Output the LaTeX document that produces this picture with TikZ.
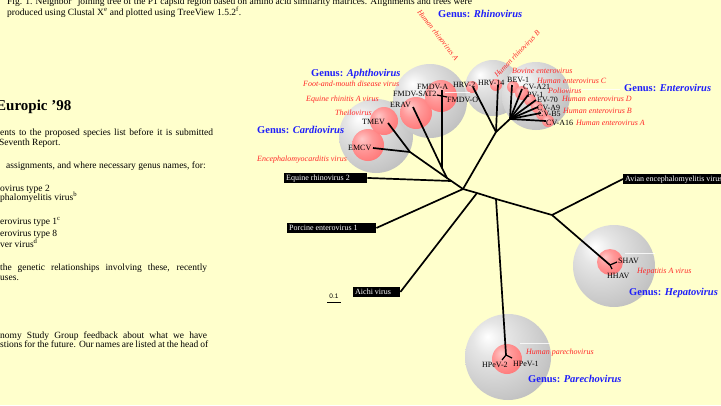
\documentclass[tikz,border=0pt]{standalone}
\usepackage{fontspec}
\setmainfont{Liberation Serif}
\setsansfont{Liberation Sans}

\definecolor{paper}{RGB}{255,255,204}
\definecolor{genusblue}{RGB}{30,30,250}
\definecolor{spred}{RGB}{255,40,40}

% shaded balls marking the genera (grey) and species (red)
\pgfdeclareradialshading{greyball}{\pgfpoint{-12bp}{12bp}}{%
  color(0bp)=(white); color(10bp)=(white!90!black); color(30bp)=(white!78!black);
  color(50bp)=(white!64!black); color(72bp)=(white!56!black)}
\pgfdeclareradialshading{redball}{\pgfpoint{-10bp}{10bp}}{%
  color(0bp)=(red!22); color(15bp)=(red!40); color(40bp)=(red!58); color(72bp)=(red!68)}

\begin{document}
\begin{tikzpicture}[x=1pt,y=-1pt,
  body/.style={font=\fontsize{9.5}{11}\selectfont, anchor=base west, inner sep=0pt},
  genus/.style={text=genusblue, font=\fontsize{10.5}{12}\selectfont\bfseries, anchor=base west, inner sep=0pt},
  species/.style={text=spred, font=\fontsize{8}{9}\selectfont\itshape, anchor=base west, inner sep=0pt},
  abbr/.style={font=\fontsize{8}{9}\selectfont, anchor=base west, inner sep=0pt},
  darkbox/.style={fill=black, text=white, font=\fontsize{8}{9}\selectfont, anchor=north west,
    inner xsep=2pt, inner ysep=1pt, text height=6.5pt, text depth=1pt},
  greysphere/.style={shading=greyball},
  redsphere/.style={shading=redball},
  branch/.style={line width=1.7pt, line join=round},
  twig/.style={line width=1.2pt},
  leader/.style={white, line width=0.6pt, opacity=0.8}]

\useasboundingbox (0,0) rectangle (721,405);
\fill[paper] (0,0) rectangle (721,405);

% ---- caption and body text ----
\node[body] (cap1) at (7,4) {Fig. 1. Neighbor\textsuperscript{d} joining tree of the P1 capsid region based on amino acid similarity matrices. Alignments and trees were};
\node[body] (cap2) at (7,15) {produced using Clustal X\textsuperscript{e} and plotted using TreeView 1.5.2\textsuperscript{f}.};

\node[anchor=base west, inner sep=0pt, font=\fontsize{15}{17}\selectfont\bfseries] (title) at (-4,110) {Europic '98};

\node[body] (t1) at (0,135) {\makebox[213pt][s]{ents to the proposed species list before it is submitted}};
\node[body] (t2) at (-1,145) {Seventh Report.};
\node[body] (t3) at (6,168) {assignments, and where necessary genus names, for:};
\node[body] (t4) at (0,191) {ovirus type 2};
\node[body] (t5) at (0,200) {phalomyelitis virus\textsuperscript{b}};
\node[body] (t6) at (0,224) {erovirus type 1\textsuperscript{c}};
\node[body] (t7) at (0,236) {erovirus type 8};
\node[body] (t8) at (0,247) {ver virus\textsuperscript{d}};
\node[body] (t9) at (0,270) {\makebox[207pt][s]{the genetic relationships involving these, recently}};
\node[body] (t10) at (0,280) {uses.};
\node[body] (t11) at (0,338) {\makebox[207pt][s]{nomy Study Group feedback about what we have}};
\node[body] (t12) at (0,347) {\makebox[208pt][s]{stions for the future. Our names are listed at the head of}};

% ---- genus spheres ----
\shade[greysphere] (376,136) circle[radius=37];
\shade[greysphere] (430,101) circle[radius=37];
\shade[greysphere] (493,88) circle[radius=28];
\shade[greysphere] (536,96) circle[radius=34];
\shade[greysphere] (614,266) circle[radius=41];
\shade[greysphere] (508,357) circle[radius=43];

% ---- species spheres ----
\shade[redsphere] (368,145) circle[radius=16];
\shade[redsphere] (384,121) circle[radius=14];
\shade[redsphere] (416,113) circle[radius=16];
\shade[redsphere] (441,96) circle[radius=16];
\shade[redsphere] (472,87) circle[radius=6];
\shade[redsphere] (496,85) circle[radius=6];
\shade[redsphere] (513,87) circle[radius=6];
\shade[redsphere] (522,93) circle[radius=7];
\shade[redsphere] (530,100) circle[radius=6];
\shade[redsphere] (537,107) circle[radius=6];
\shade[redsphere] (542,114) circle[radius=6];
\shade[redsphere] (548,121) circle[radius=6];
\shade[redsphere] (610,262) circle[radius=13];
\shade[redsphere] (507,359) circle[radius=15];

% faint leader lines from labels to spheres
\draw[leader] (445,92) -- (470,92);
\draw[leader] (562,89) -- (620,89);
\draw[leader] (625,253) -- (655,253);
\draw[leader] (520,343) -- (550,343);

% ---- outgroup labels in black boxes ----
\node[darkbox] (eqr) at (284,173) {\makebox[79pt][l]{Equine rhinovirus 2}};
\node[darkbox] (pev) at (287,223) {\makebox[85pt][l]{Porcine enterovirus 1}};
\node[darkbox] (aichi) at (353,287) {\makebox[43pt][l]{Aichi virus}};
\node[darkbox] (avian) at (623,174) {\makebox[120pt][l]{Avian encephalomyelitis virus}};

% ---- tree: inner nodes ----
\coordinate (c0) at (463,189);
\coordinate (n1) at (451,181);
\coordinate (nAC) at (447,178);
\coordinate (a0) at (442,168);
\coordinate (f0) at (442,96);
\coordinate (cd0) at (410,152);
\coordinate (rh0) at (496,132);
\coordinate (e0) at (510,119);
\coordinate (nA) at (477,193);
\coordinate (p1) at (496,199);
\coordinate (h1) at (552,215);
\coordinate (hv) at (610,265);
\coordinate (pe) at (506,355);

% ---- tree: tips ----
\coordinate (tFA) at (442,90);
\coordinate (tFS) at (437,95);
\coordinate (tFO) at (447,97);
\coordinate (tER) at (413,107);
\coordinate (tTM) at (388,123);
\coordinate (tEM) at (373,148);
\coordinate (tH2) at (473,87);
\coordinate (tH14) at (498,85);
\coordinate (tBE) at (512,85);
\coordinate (tA21) at (522,89);
\coordinate (tPV) at (528,95);
\coordinate (tE70) at (536,100);
\coordinate (tA9) at (538,107);
\coordinate (tB5) at (541,113);
\coordinate (tA16) at (546,121);
\coordinate (tSH) at (617,262);
\coordinate (tHH) at (612,269);
\coordinate (tP2) at (502,360);
\coordinate (tP1) at (512,358);

% ---- tree: branches ----
\draw[branch] (eqr.east) -- (n1);
\draw[branch] (pev.east) -- (c0);
\draw[branch] (aichi.east) -- (nA);
\draw[branch] (avian.west) -- (h1);
\draw[branch] (c0) -- (nAC) -- (a0) -- (f0);
\draw[branch] (a0) -- (tER);
\draw[branch] (nAC) -- (cd0) -- (tTM);
\draw[branch] (cd0) -- (tEM);
\draw[branch] (c0) -- (rh0) -- (tH2);
\draw[branch] (rh0) -- (tH14);
\draw[branch] (rh0) -- (e0);
\foreach \t in {tBE,tA21,tPV,tE70,tA9,tB5,tA16} \draw[branch] (e0) -- (\t);
\draw[branch] (c0) -- (nA) -- (p1) -- (h1) -- (hv);
\draw[branch] (p1) -- (pe);
\draw[twig] (f0) -- (tFA);
\draw[twig] (f0) -- (tFS);
\draw[twig] (f0) -- (tFO);
\draw[twig] (hv) -- (tSH);
\draw[twig] (hv) -- (tHH);
\draw[twig] (pe) -- (tP2);
\draw[twig] (pe) -- (tP1);

% scale bar
\node[anchor=base, inner sep=0pt, font=\sffamily\fontsize{6.5}{7}\selectfont] (scl) at (334,298) {0.1};
\coordinate (sb0) at (327,302);
\coordinate (sb1) at (341,302);
\draw[line width=1pt] (sb0) -- (sb1);

% ---- strain abbreviations ----
\node[abbr] (FMDVA) at (417,89) {FMDV-A};
\node[abbr] (FMDVSAT) at (393,96) {FMDV-SAT2};
\node[abbr] (FMDVO) at (447,102) {FMDV-O};
\node[abbr] (ERAV) at (390,107) {ERAV};
\node[abbr] (TMEV) at (362,124) {TMEV};
\node[abbr] (EMCV) at (348,150) {EMCV};
\node[abbr] (HRV2) at (453,87) {HRV-2};
\node[abbr] (HRV14) at (478,85) {HRV-14};
\node[abbr] (BEV1) at (507,82) {BEV-1};
\node[abbr] (CVA21) at (523,89) {CV-A21};
\node[abbr] (PV1) at (527,97) {PV-1};
\node[abbr] (EV70) at (537,102) {EV-70};
\node[abbr] (CVA9) at (537,110) {CV-A9};
\node[abbr] (CVB5) at (538,116) {CV-B5};
\node[abbr] (CVA16) at (546,125) {CV-A16};
\node[abbr] (SHAV) at (618,263) {SHAV};
\node[abbr] (HHAV) at (607,278) {HHAV};
\node[abbr] (HPeV2) at (482,367) {HPeV-2};
\node[abbr] (HPeV1) at (513,366) {HPeV-1};

% ---- species names ----
\node[species] (fmd) at (303,86) {Foot-and-mouth disease virus};
\node[species] (era) at (306,101) {Equine rhinitis A virus};
\node[species] (theil) at (335,115) {Theilovirus};
\node[species] (emc) at (257,161) {Encephalomyocarditis virus};
\node[species, font=\fontsize{7.5}{8}\selectfont\itshape, rotate=-52, anchor=center] (hrva) at (438,35) {Human rhinovirus A};
\node[species, font=\fontsize{7.5}{8}\selectfont\itshape, rotate=46, anchor=center] (hrvb) at (517,54) {Human rhinovirus B};
\node[species] (bev) at (512,73) {Bovine enterovirus};
\node[species] (hevc) at (537,83) {Human enterovirus C};
\node[species] (polio) at (548,93) {Poliovirus};
\node[species] (hevd) at (562,101) {Human enterovirus D};
\node[species] (hevb) at (563,113) {Human enterovirus B};
\node[species] (heva) at (576,125) {Human enterovirus A};
\node[species] (hav) at (637,273) {Hepatitis A virus};
\node[species] (hpev) at (526,354) {Human parechovirus};

% ---- genus names ----
\node[genus] (gAph) at (311,76) {Genus: \textit{Aphthovirus}};
\node[genus] (gCar) at (257,133) {Genus: \textit{Cardiovirus}};
\node[genus] (gRhi) at (438,17) {Genus: \textit{Rhinovirus}};
\node[genus] (gEnt) at (624,91) {Genus: \textit{Enterovirus}};
\node[genus] (gHep) at (629,295) {Genus: \textit{Hepatovirus}};
\node[genus] (gPar) at (528,382) {Genus: \textit{Parechovirus}};

\end{tikzpicture}
\end{document}
